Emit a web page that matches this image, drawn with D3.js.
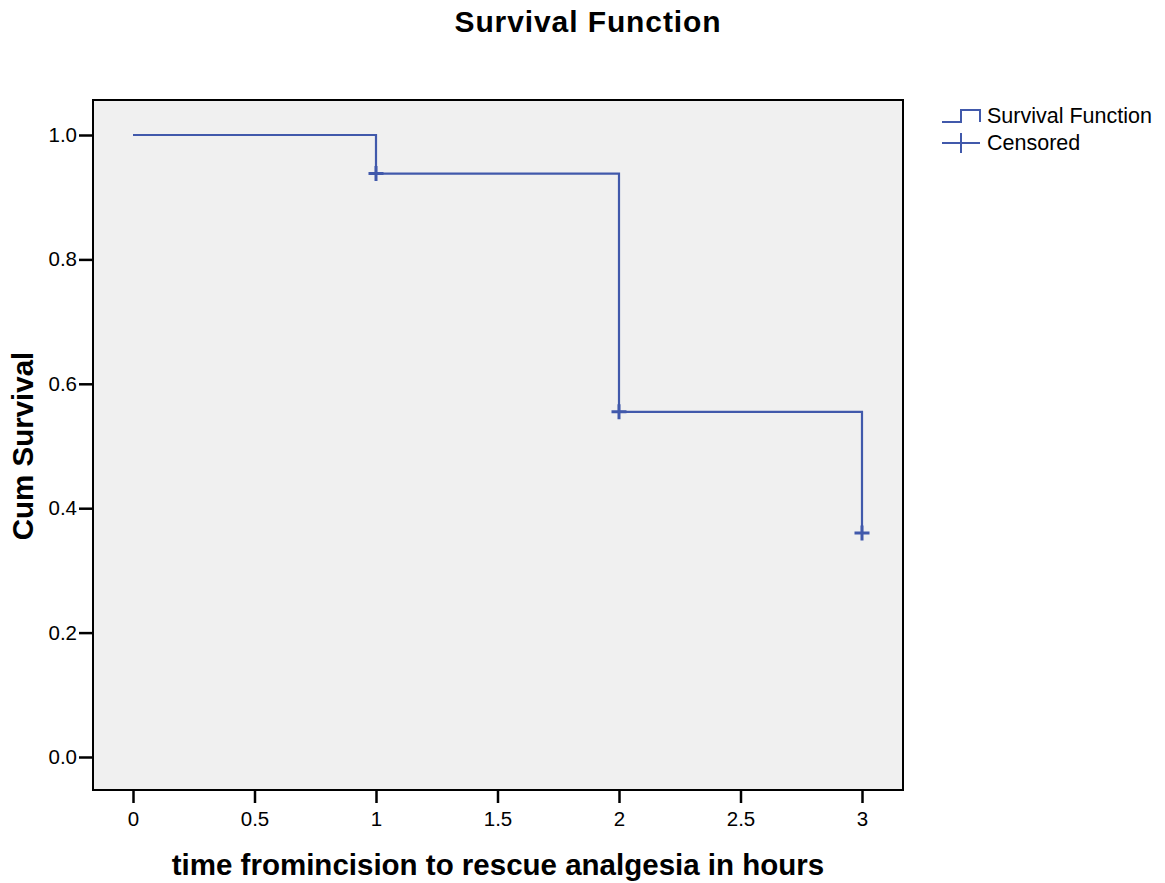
<!DOCTYPE html>
<html>
<head>
<meta charset="utf-8">
<script src="https://cdn.jsdelivr.net/npm/d3@7"></script>
<style>
body { margin: 0; background: #fff; }
text { font-family: Arial, "Liberation Sans", sans-serif; }
</style>
</head>
<body>
<script>
var w = 1165;
var h = 883;

// survival steps: time, cumulative survival
var times = [0, 1, 2, 3];
var survival = [1.0, 0.938, 0.555, 0.36];
// censored observations
var censTimes = [1, 2, 3];
var censSurv = [0.938, 0.555, 0.36];

var xTicks = [0, 0.5, 1, 1.5, 2, 2.5, 3];
var yTicks = [0, 0.2, 0.4, 0.6, 0.8, 1.0];

var frame = {left: 93, top: 100, right: 903, bottom: 790};
var lineColor = "#4159ab";

var svg = d3.select("body")
    .append("svg")
    .attr("width", w)
    .attr("height", h);

var x = d3.scaleLinear().domain([0, 3]).range([133, 862]);
var y = d3.scaleLinear().domain([0, 1]).range([757, 135]);

svg.append("rect")
    .attr("x", frame.left)
    .attr("y", frame.top)
    .attr("width", frame.right - frame.left)
    .attr("height", frame.bottom - frame.top)
    .attr("fill", "#f0f0f0")
    .attr("stroke", "#000")
    .attr("stroke-width", 2);

var xAxis = svg.append("g")
    .attr("transform", "translate(0," + frame.bottom + ")")
    .call(d3.axisBottom(x).tickValues(xTicks).tickSize(13).tickPadding(8)
        .tickFormat(function(d) { return d3.format("")(d); }));
xAxis.select(".domain").remove();

var yAxis = svg.append("g")
    .attr("transform", "translate(" + frame.left + ",0)")
    .call(d3.axisLeft(y).tickValues(yTicks).tickSize(14).tickPadding(2)
        .tickFormat(d3.format(".1f")));
yAxis.select(".domain").remove();

svg.selectAll(".tick line").attr("stroke", "#000").attr("stroke-width", 2.5);
svg.selectAll(".tick text")
    .attr("fill", "#000")
    .style("font-size", "20.5px");

// step line
var stepLine = d3.line()
    .x(function(d) { return x(d[0]); })
    .y(function(d) { return y(d[1]); })
    .curve(d3.curveStepAfter);

var pts = times.map(function(t, i) { return [t, survival[i]]; });

svg.append("path")
    .attr("d", stepLine(pts))
    .attr("fill", "none")
    .attr("stroke", lineColor)
    .attr("stroke-width", 2.2);

// censored marks
var cs = 7.5;
censTimes.forEach(function(t, i) {
    var cx = x(t), cy = y(censSurv[i]);
    svg.append("path")
        .attr("d", "M" + (cx - cs) + "," + cy + "H" + (cx + cs) + "M" + cx + "," + (cy - cs) + "V" + (cy + cs))
        .attr("stroke", lineColor)
        .attr("stroke-width", 3)
        .attr("fill", "none");
});

// titles
svg.append("text")
    .attr("x", 588)
    .attr("y", 32)
    .attr("text-anchor", "middle")
    .style("font-size", "30px")
    .style("font-weight", "bold")
    .style("letter-spacing", "0.9px")
    .text("Survival Function");

svg.append("text")
    .attr("x", 498)
    .attr("y", 875)
    .attr("text-anchor", "middle")
    .style("font-size", "29.5px")
    .style("font-weight", "bold")
    .text("time fromincision to rescue analgesia in hours");

svg.append("text")
    .attr("transform", "translate(33,446) rotate(-90)")
    .attr("text-anchor", "middle")
    .style("font-size", "29.5px")
    .style("font-weight", "bold")
    .text("Cum Survival");

// legend
var lg = svg.append("g");
lg.append("path")
    .attr("d", "M942,122H961V110H980V122")
    .attr("fill", "none")
    .attr("stroke", lineColor)
    .attr("stroke-width", 2);
lg.append("text")
    .attr("x", 987)
    .attr("y", 123)
    .style("font-size", "21.5px")
    .text("Survival Function");
lg.append("path")
    .attr("d", "M942,143H980M961,133V153")
    .attr("fill", "none")
    .attr("stroke", lineColor)
    .attr("stroke-width", 2);
lg.append("text")
    .attr("x", 987)
    .attr("y", 150)
    .style("font-size", "21.5px")
    .text("Censored");
</script>
</body>
</html>
